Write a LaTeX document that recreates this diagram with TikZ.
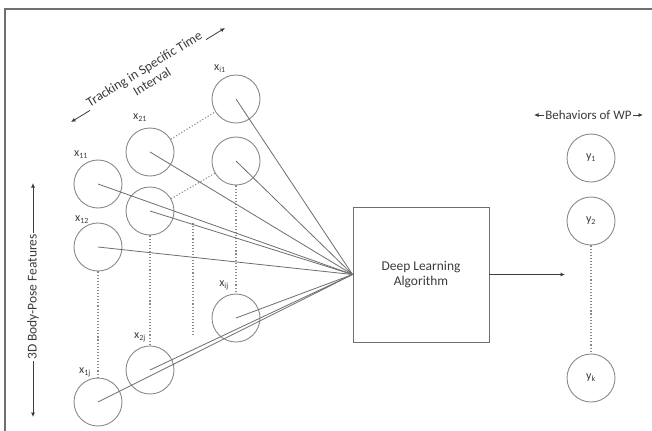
\documentclass[tikz,border=0pt]{standalone}
\usepackage{fontspec}
\setmainfont{Carlito}
\usetikzlibrary{arrows.meta}
\definecolor{txt}{HTML}{3C3C3C}
\definecolor{circ}{HTML}{8A8A8A}
\definecolor{lin}{HTML}{6E6E6E}
\definecolor{frm}{HTML}{707070}
\begin{document}
\begin{tikzpicture}[x=1bp,y=-1bp,
  feat/.style={circle,draw=circ,line width=0.9bp,minimum size=48bp,inner sep=0pt,text=txt,font=\fontsize{12}{14}\selectfont},
  lbl/.style={text=txt,font=\fontsize{12}{14}\selectfont,inner sep=0pt},
  conn/.style={draw=lin,line width=0.8bp},
  dots/.style={draw=circ,dotted,line width=1.1bp},
  dbl/.style={draw=txt,line width=0.8bp,{Latex[length=4.5bp,width=4bp]}-{Latex[length=4.5bp,width=4bp]}},
  one/.style={draw=txt,line width=0.8bp,-{Latex[length=4.5bp,width=4bp]}},
  captxt/.style={text=txt,font=\fontsize{13.5}{15}\selectfont,fill=white,inner sep=1.5bp,align=center},
  algbox/.style={draw=lin,line width=0.9bp,minimum width=136bp,minimum height=135bp,text=txt,font=\fontsize{13.5}{16}\selectfont,align=center}]
\useasboundingbox (0,0) rectangle (652,430);
\fill[white] (0,0) rectangle (652,430);
\draw[frm,line width=1.4bp] (5,440) -- (5,9) -- (660,9);

% feature circles
\node[feat] (c11) at (98,184) {};
\node[feat] (c12) at (98,247) {};
\node[feat] (c1j) at (98,402) {};
\node[feat] (c21) at (150,152) {};
\node[feat] (c22) at (150,211) {};
\node[feat] (c2j) at (150,370) {};
\node[feat] (ci1) at (236,99) {};
\node[feat] (ci2) at (236,161) {};
\node[feat] (cij) at (236,318) {};

% labels
\node[lbl] (l11) at (81,155) {x\textsubscript{11}};
\node[lbl] (l21) at (140,118) {x\textsubscript{21}};
\node[lbl] (li1) at (220,69) {x\textsubscript{i1}};
\node[lbl] (l12) at (82,220) {x\textsubscript{12}};
\node[lbl] (lij) at (224,285) {x\textsubscript{ij}};
\node[lbl] (l2j) at (140,337) {x\textsubscript{2j}};
\node[lbl] (l1j) at (85,372) {x\textsubscript{1j}};

% dotted links
\draw[dots] (c21) -- (ci1);
\draw[dots] (c22) -- (ci2);
\draw[dots] (c12) -- (c1j);
\draw[dots] (c22) -- (c2j);
\draw[dots] (ci2) -- (cij);
\coordinate (m1) at (193,223);
\coordinate (m2) at (193,335);
\draw[dots] (m1) -- (m2);

% algorithm box
\node[algbox] (alg) at (421,274.5) {Deep Learning\\Algorithm};

% connectors
\foreach \c in {c11,c12,c1j,c21,c22,c2j,ci1,ci2,cij}
  \draw[conn] (\c.center) -- (alg.west);

% outputs
\node[feat] (y1) at (591,158) {y\textsubscript{1}};
\node[feat] (y2) at (591,221) {y\textsubscript{2}};
\node[feat] (yk) at (591,378) {y\textsubscript{k}};
\draw[dots] (y2) -- (yk);
\coordinate (out) at (565,274.5);
\draw[one] (alg.east) -- (out);

% axis captions
\coordinate (b1) at (534,115);
\coordinate (b2) at (643,115);
\draw[dbl] (b1) -- (b2) node[captxt,midway,inner sep=1bp,font=\fontsize{13}{15}\selectfont] (bt) {Behaviors of WP};

\coordinate (v1) at (33,183);
\coordinate (v2) at (33,417);
\draw[dbl] (v1) -- (v2) node[captxt,pos=0.487,rotate=90] (vt) {3D Body-Pose Features};

\coordinate (t1) at (71,122);
\coordinate (t2) at (225,28);
\draw[dbl] (t1) -- (t2) node[captxt,midway,sloped,fill=white,font=\fontsize{13.5}{15}\selectfont] (tt) {Tracking in Specific Time\\Interval};
\end{tikzpicture}
\end{document}
